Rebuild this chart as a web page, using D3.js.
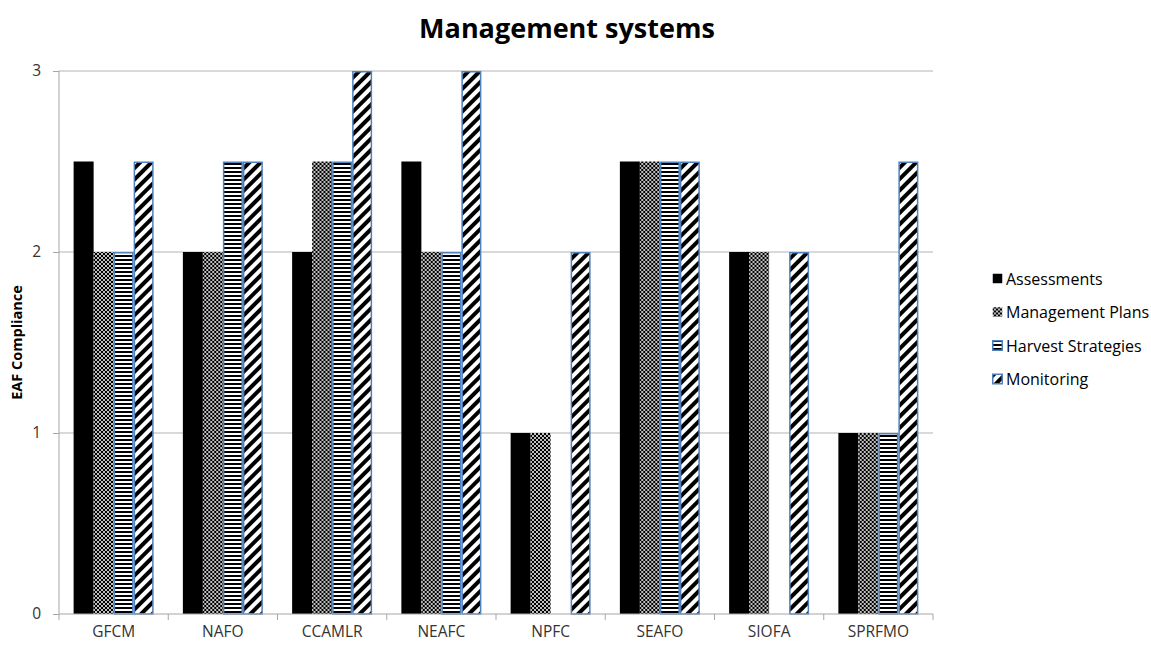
<!DOCTYPE html>
<html>
<head>
<meta charset="utf-8">
<script src="https://cdn.jsdelivr.net/npm/d3@7"></script>
<style>
  body { margin: 0; background: #fff; }
  text { font-family: "Open Sans", "Noto Sans", sans-serif; }
</style>
</head>
<body>
<svg id="chart" width="1151" height="645"></svg>
<script>
const categories = ['GFCM', 'NAFO', 'CCAMLR', 'NEAFC', 'NPFC', 'SEAFO', 'SIOFA', 'SPRFMO']
const seriesNames = ['Assessments', 'Management Plans', 'Harvest Strategies', 'Monitoring']
const assessments = [2.5, 2, 2, 2.5, 1, 2.5, 2, 1]
const managementPlans = [2, 2, 2.5, 2, 1, 2.5, 2, 1]
const harvestStrategies = [2, 2.5, 2.5, 2, 0, 2.5, 0, 1]
const monitoring = [2.5, 2.5, 3, 3, 2, 2.5, 2, 2.5]
const yTicks = [0, 1, 2, 3]

const seriesValues = [assessments, managementPlans, harvestStrategies, monitoring]

const svg = d3.select('#chart')
const margin = {left: 59, right: 218, top: 71, bottom: 31}
const width = 1151, height = 645
const innerW = width - margin.left - margin.right
const innerH = height - margin.top - margin.bottom
const blue = '#4f81bd'

// patterns
const defs = svg.append('defs')
const dots = defs.append('pattern').attr('id', 'p-dots')
    .attr('width', 4).attr('height', 4).attr('patternUnits', 'userSpaceOnUse')
dots.append('rect').attr('width', 4).attr('height', 4).attr('fill', '#000')
dots.append('circle').attr('cx', 1).attr('cy', 1).attr('r', 1).attr('fill', '#fff')
dots.append('circle').attr('cx', 3).attr('cy', 3).attr('r', 1).attr('fill', '#fff')

const hlines = defs.append('pattern').attr('id', 'p-hlines')
    .attr('width', 4).attr('height', 4).attr('patternUnits', 'userSpaceOnUse')
hlines.append('rect').attr('width', 4).attr('height', 4).attr('fill', '#fff')
hlines.append('rect').attr('y', 0).attr('width', 4).attr('height', 2).attr('fill', '#000')

const diag = defs.append('pattern').attr('id', 'p-diag')
    .attr('width', 8).attr('height', 8).attr('patternUnits', 'userSpaceOnUse')
    .attr('patternTransform', 'rotate(45)')
diag.append('rect').attr('width', 8).attr('height', 8).attr('fill', '#fff')
diag.append('rect').attr('x', 0).attr('width', 4).attr('height', 8).attr('fill', '#000')

const fills = ['#000', 'url(#p-dots)', 'url(#p-hlines)', 'url(#p-diag)']
const strokes = ['none', 'none', blue, blue]

const g = svg.append('g').attr('transform', `translate(${margin.left},${margin.top})`)

const x0 = d3.scaleBand().domain(categories).range([0, innerW])
const groupW = 80
const x1 = d3.scaleBand().domain(d3.range(4))
    .range([(x0.bandwidth() - groupW) / 2, (x0.bandwidth() + groupW) / 2])
const y = d3.scaleLinear().domain([0, 3]).range([innerH, 0])

// gridlines
g.selectAll('.grid').data(yTicks.filter(d => d > 0)).join('line')
    .attr('x1', 0).attr('x2', innerW)
    .attr('y1', d => y(d)).attr('y2', d => y(d))
    .attr('stroke', '#b3b3b3').attr('stroke-width', 1)

// bars
const groups = g.selectAll('.grp').data(categories).join('g')
    .attr('transform', d => `translate(${x0(d)},0)`)
groups.each(function (cat, ci) {
    const bars = seriesValues.map((vals, si) => ({si, v: vals[ci]})).filter(d => d.v > 0)
    d3.select(this).selectAll('rect').data(bars).join('rect')
        .attr('x', d => x1(d.si) + (strokes[d.si] === 'none' ? 0 : 0.75))
        .attr('y', d => y(d.v) + (strokes[d.si] === 'none' ? 0 : 0.75))
        .attr('width', d => x1.bandwidth() - (strokes[d.si] === 'none' ? 0 : 1.5))
        .attr('height', d => innerH - y(d.v) - (strokes[d.si] === 'none' ? 0 : 0.75))
        .attr('fill', d => fills[d.si])
        .attr('stroke', d => strokes[d.si])
        .attr('stroke-width', 1.5)
})

// y axis
const yAxis = g.append('g').call(d3.axisLeft(y).tickValues(yTicks).tickFormat(d3.format('d')).tickSize(6).tickPadding(12))
yAxis.select('.domain').attr('stroke', '#a6a6a6').attr('d', `M0,0V${innerH}`)
yAxis.selectAll('.tick line').attr('stroke', '#a6a6a6')
yAxis.selectAll('.tick text').attr('font-size', 15.5).attr('fill', '#333')

// x axis
const xAxis = g.append('g').attr('transform', `translate(0,${innerH})`)
    .call(d3.axisBottom(x0).tickSize(0).tickPadding(12))
xAxis.select('.domain').attr('stroke', '#a6a6a6').attr('d', `M0,0H${innerW}`)
xAxis.selectAll('.tick text').attr('font-size', 15.5).attr('fill', '#333')
g.selectAll('.xtick').data(d3.range(categories.length + 1)).join('line')
    .attr('x1', i => i * x0.step()).attr('x2', i => i * x0.step())
    .attr('y1', innerH).attr('y2', innerH + 6)
    .attr('stroke', '#a6a6a6')

// title
svg.append('text').attr('x', 567).attr('y', 38).attr('text-anchor', 'middle')
    .attr('font-size', 27).attr('font-weight', 'bold').attr('fill', '#000')
    .text('Management systems')

// y label
svg.append('text').attr('transform', `translate(22,${margin.top + innerH / 2}) rotate(-90)`)
    .attr('text-anchor', 'middle').attr('font-size', 14.5).attr('font-weight', 'bold')
    .text('EAF Compliance')

// legend
const legend = svg.append('g').attr('transform', 'translate(992,273)')
const item = legend.selectAll('g').data(seriesNames).join('g')
    .attr('transform', (d, i) => `translate(0,${i * 33.5})`)
item.append('rect').attr('x', 0.75).attr('y', 0.75).attr('width', 9.5).attr('height', 9.5)
    .attr('fill', (d, i) => fills[i])
    .attr('stroke', (d, i) => strokes[i]).attr('stroke-width', 1.5)
item.append('text').attr('x', 14).attr('y', 11.5).attr('font-size', 16).attr('fill', '#000')
    .text(d => d)
</script>
</body>
</html>
